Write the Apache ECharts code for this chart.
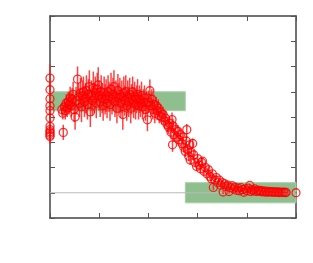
<!DOCTYPE html>
<html><head><meta charset="utf-8">
<script src="https://cdn.jsdelivr.net/npm/echarts@6/dist/echarts.min.js"></script>
<style>html,body{margin:0;padding:0;background:#fff}#c{width:313px;height:263px}</style>
</head><body><div id="c"></div>
<script>
const xs = [0,0,0,0,0,0,0,0,0,0,0,0,
0.24,0.26,0.27,0.29,0.31,0.33,0.35,0.37,0.39,0.41,0.43,0.45,0.47,0.49,0.51,0.53,0.56,0.58,0.6,0.62,0.64,0.66,0.68,0.7,0.72,0.74,0.76,0.78,0.8,0.82,0.84,0.86,0.88,0.9,0.92,0.94,0.96,0.98,
1.0,1.02,1.04,1.06,1.08,1.1,1.12,1.14,1.16,1.18,1.2,1.22,1.24,1.26,1.28,1.3,1.32,1.34,1.36,1.38,1.4,1.42,1.44,1.46,1.48,1.5,1.52,1.54,1.56,1.58,1.6,1.62,1.64,1.66,1.68,1.7,1.72,1.74,1.76,1.78,1.8,1.82,1.84,1.86,1.88,1.9,1.92,1.94,1.96,1.98,
2.0,2.03,2.05,2.07,2.09,2.11,2.13,2.16,2.18,2.2,2.22,2.25,2.27,2.3,2.33,2.35,2.38,2.41,2.43,2.46,2.48,2.5,2.49,2.52,2.55,2.58,2.6,2.62,2.65,2.68,2.7,2.72,2.75,2.77,2.78,2.8,2.82,2.84,2.85,2.87,2.9,2.92,2.95,2.98,
3.0,3.03,3.06,3.08,3.1,3.13,3.16,3.19,3.22,3.25,3.28,3.3,3.32,3.35,3.38,3.41,3.44,3.47,3.5,3.52,3.55,3.58,3.61,3.64,3.67,3.7,3.73,3.76,3.79,3.82,3.85,3.88,3.91,3.94,3.97,
4.0,4.03,4.06,4.08,4.1,4.13,4.16,4.19,4.22,4.25,4.28,4.3,4.33,4.36,4.39,4.42,4.45,4.48,4.51,4.54,4.57,4.6,4.63,4.66,4.69,4.72,4.75,4.78,4.8,5.0];
const ys = [4.54,4.08,3.72,3.44,3.25,2.96,2.63,2.50,2.42,2.36,2.28,2.23,
3.3,3.15,2.39,3.4,3.25,3.55,3.35,3.6,3.5,3.75,3.45,3.7,3.9,3.3,3.0,3.65,4.5,3.8,3.55,3.95,3.4,3.85,4.0,3.6,3.75,4.05,3.5,3.9,4.2,3.2,3.85,3.65,4.15,3.75,3.95,3.55,4.1,4.27,
3.85,3.6,4.0,3.75,3.45,3.95,3.7,3.85,3.55,4.0,3.8,3.5,4.1,3.7,3.9,4.2,3.6,3.8,3.35,4.05,3.75,3.9,3.55,3.8,3.1,3.95,3.65,4.0,3.45,3.8,3.6,3.9,3.35,3.7,4.0,3.55,3.8,3.5,3.7,3.9,3.45,3.7,3.55,3.85,3.4,3.6,3.75,3.3,3.55,2.89,
3.6,4.04,3.45,3.7,3.3,3.5,3.15,3.45,3.25,3.35,3.05,3.2,3.0,3.1,2.85,2.95,2.7,2.6,2.75,2.4,2.9,2.65,1.9,2.3,2.5,2.2,2.43,2.1,2.3,1.95,2.2,1.8,1.64,2.05,2.5,1.7,1.45,1.9,1.3,1.6,1.95,1.5,1.2,1.04,
1.35,1.1,0.95,1.2,1.25,0.85,1.0,0.75,0.91,0.65,0.55,0.75,0.21,0.5,0.6,0.4,0.5,0.3,0.4,0.03,0.35,0.25,0.3,0.05,0.2,0.28,0.15,0.22,0.1,0.18,0.08,0.2,0.12,0.02,0.15,
0.08,0.18,0.29,0.05,0.12,0.08,0.15,0.05,0.1,0.06,0.09,0.04,0.07,0.03,0.06,0.02,0.05,0.03,0.04,0.02,0.03,0.02,0.03,0.01,0.02,0.01,0.02,0.01,0.01,0.0];
const errs = [0.55,0.45,0.4,0.4,0.35,0.35,0.3,0.3,0.3,0.3,0.3,0.3,
0.25,0.25,0.3,0.3,0.35,0.35,0.35,0.4,0.4,0.45,0.45,0.45,0.5,0.5,0.5,0.55,0.5,0.55,0.55,0.6,0.6,0.6,0.6,0.6,0.6,0.6,0.6,0.6,0.65,0.6,0.6,0.6,0.65,0.6,0.65,0.6,0.65,0.7,
0.6,0.6,0.65,0.6,0.6,0.65,0.6,0.65,0.6,0.65,0.6,0.65,0.65,0.6,0.65,0.65,0.6,0.65,0.6,0.65,0.6,0.65,0.6,0.65,0.6,0.65,0.6,0.65,0.6,0.65,0.6,0.65,0.6,0.6,0.6,0.6,0.6,0.6,0.55,0.6,0.55,0.55,0.55,0.55,0.5,0.5,0.5,0.45,0.45,0.45,
0.45,0.45,0.45,0.4,0.4,0.4,0.4,0.35,0.35,0.35,0.3,0.3,0.3,0.3,0.3,0.3,0.3,0.28,0.28,0.28,0.28,0.28,0.28,0.28,0.28,0.25,0.25,0.25,0.25,0.25,0.22,0.22,0.22,0.22,0.22,0.2,0.2,0.2,0.2,0.2,0.2,0.2,0.15,0.15,
0.15,0.15,0.15,0.15,0.15,0.15,0.15,0.12,0.12,0.12,0.12,0.12,0.1,0.1,0.1,0.1,0.1,0.1,0.1,0.08,0.08,0.08,0.08,0.08,0.08,0.08,0.07,0.07,0.07,0.07,0.06,0.06,0.06,0.06,0.06,
0.05,0.05,0.05,0.05,0.05,0.05,0.04,0.04,0.04,0.04,0.04,0.04,0.03,0.03,0.03,0.03,0.03,0.03,0.03,0.02,0.02,0.02,0.02,0.02,0.02,0.02,0.02,0.02,0.02,0.02];
const bands = [[0,3.25,2.75,4.0],[2.75,-0.4,5.0,0.4]];
const zeroLevel = 0;

const pts = xs.map((x,i)=>[x,ys[i]]);
const ebars = xs.map((x,i)=>[x,ys[i]-errs[i],ys[i]+errs[i]]);
const axLine = {show:true,onZero:false,lineStyle:{color:'#444',width:1.5}};
const axTick = {show:true,inside:true,length:5,lineStyle:{color:'#555',width:1}};
const chart = echarts.init(document.getElementById('c'),null,{renderer:'canvas'});
chart.setOption({
  animation:false,
  grid:{left:50,right:17,top:16,bottom:45,containLabel:false},
  xAxis:[
    {type:'value',min:0,max:5,interval:1,axisLine:axLine,axisTick:axTick,axisLabel:{show:false},splitLine:{show:false}},
    {type:'value',position:'top',min:0,max:5,interval:1,axisLine:axLine,axisTick:axTick,axisLabel:{show:false},splitLine:{show:false}}
  ],
  yAxis:[
    {type:'value',min:-1,max:7,interval:1,axisLine:axLine,axisTick:axTick,axisLabel:{show:false},splitLine:{show:false}},
    {type:'value',position:'right',min:-1,max:7,interval:1,axisLine:axLine,axisTick:axTick,axisLabel:{show:false},splitLine:{show:false}}
  ],
  series:[
    {type:'custom',z:1,data:bands,renderItem:function(p,api){
      const a=api.coord([api.value(0),api.value(1)]);
      const b=api.coord([api.value(2),api.value(3)]);
      return {type:'rect',shape:{x:a[0],y:b[1],width:b[0]-a[0],height:a[1]-b[1]},style:{fill:'#8fbf8f',stroke:'#a8d0a8',lineWidth:1}};
    }},
    {type:'line',z:2,data:[[0,zeroLevel],[5,zeroLevel]],symbol:'none',lineStyle:{color:'#bbbbbb',width:1}},
    {type:'custom',z:3,data:ebars,renderItem:function(p,api){
      const a=api.coord([api.value(0),api.value(1)]);
      const b=api.coord([api.value(0),api.value(2)]);
      return {type:'line',shape:{x1:a[0],y1:a[1],x2:b[0],y2:b[1]},style:{stroke:'#ff2020',lineWidth:1.5,opacity:0.85}};
    }},
    {type:'scatter',z:4,data:pts,symbol:'circle',symbolSize:8,itemStyle:{color:'rgba(0,0,0,0)',borderColor:'#ff0000',borderWidth:1.3}}
  ]
});
</script></body></html>
